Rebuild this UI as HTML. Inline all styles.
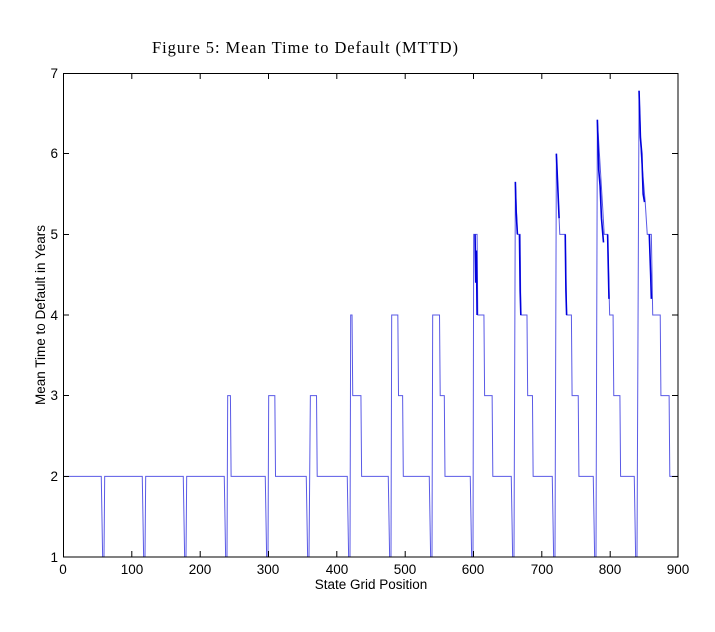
<!DOCTYPE html>
<html><head><meta charset="utf-8"><style>
body{margin:0;background:#fff;}
svg{display:block;}
text{font-family:"Liberation Sans",Arial,sans-serif;font-size:13.5px;fill:#000;}
</style></head><body>
<svg width="715" height="632" viewBox="0 0 715 632" xmlns="http://www.w3.org/2000/svg">
<rect width="715" height="632" fill="#fff"/>
<text x="305" y="53" text-anchor="middle" textLength="306" lengthAdjust="spacing" style="font-family:'Liberation Serif',serif;font-size:16.5px">Figure 5: Mean Time to Default (MTTD)</text>
<g transform="matrix(0.68333,0,0,-80.667,63,637.67)" fill="none">
<path vector-effect="non-scaling-stroke" stroke="#5a5ae6" stroke-width="1" d="M0,2 L56,2 L58,1 L60,1 L61,2 L116,2 L118,1 L120,1 L121,2 L176,2 L178,1 L180,1 L181,2 L236,2 L238,1 L240,1 L241,3 L245,3 L246,2 L296,2 L298,1 L300,1 L301,3 L310,3 L311,2 L356,2 L358,1 L360,1 L362,3 L371,3 L372,2 L416,2 L418,1 L420,1 L421,4 L423,4 L424,3 L436,3 L437,2 L476,2 L478,1 L480,1 L481,4 L490,4 L491,3 L497,3 L498,2 L536,2 L538,1 L540,1 L541,4 L551,4 L552,3 L558,3 L559,2 L596,2 L598,1 L600,1 L601,5 L606,5 L607,4 L616,4 L617,3 L628,3 L629,2 L656,2 L658,1 L660,1 L662,5.65 L665,5 L669,5 L670,4 L679,4 L680,3 L687,3 L688,2 L716,2 L718,1 L720,1 L722,6 L727,5 L735,5 L737,4 L744,4 L745,3 L754,3 L755,2 L776,2 L778,1 L780,1 L782,6.42 L785,6 L790,5.3 L792,5 L797,5 L800,4 L805,4 L806,3 L815,3 L816,2 L836,2 L838,1 L840,1 L843,6.78 L846,6 L852,5.4 L855,5 L861,5 L863,4 L874,4 L875,3 L887,3 L888,2 L900,2"/>
<path vector-effect="non-scaling-stroke" stroke="#0000dd" stroke-width="1.6" d="M603,5 L604,4.4 L605,4.8 L606,4 M662,5.65 L663,5.3 L665,5 M668,5 L669,4.3 L670,4 M722,6 L724,5.6 L726,5.2 M735,5 L736,4.3 L737,4 M782,6.42 L784,5.8 L786,5.6 L788,5.2 L791,4.9 M797,5 L798,4.6 L799,4.2 M843,6.78 L845,6.2 L847,6 L849,5.5 L851,5.4 M858,5 L860,4.5 L861,4.2"/>
</g>
<g stroke="#000" stroke-width="1" fill="none">
<rect x="63.5" y="73.5" width="614.5" height="483.5"/>
<path d="M131.8,557v-6M200.2,557v-6M268.5,557v-6M336.8,557v-6M405.2,557v-6M473.5,557v-6M541.8,557v-6M610.2,557v-6
M131.8,73v6M200.2,73v6M268.5,73v6M336.8,73v6M405.2,73v6M473.5,73v6M541.8,73v6M610.2,73v6
M63,476.5h6M63,395.5h6M63,315h6M63,234.5h6M63,153.5h6
M678,476.5h-6M678,395.5h-6M678,315h-6M678,234.5h-6M678,153.5h-6"/>
</g>
<g text-anchor="middle">
<text x="63" y="574">0</text><text x="132" y="574">100</text><text x="200" y="574">200</text><text x="268" y="574">300</text><text x="337" y="574">400</text><text x="405" y="574">500</text><text x="473" y="574">600</text><text x="542" y="574">700</text><text x="610" y="574">800</text><text x="678" y="574">900</text>
</g>
<g text-anchor="end">
<text x="58" y="562">1</text><text x="58" y="481">2</text><text x="58" y="400">3</text><text x="58" y="320">4</text><text x="58" y="239">5</text><text x="58" y="158">6</text><text x="58" y="78">7</text>
</g>
<text x="371" y="589" text-anchor="middle">State Grid Position</text>
<text transform="translate(45,315) rotate(-90)" text-anchor="middle">Mean Time to Default in Years</text>
</svg>
</body></html>
